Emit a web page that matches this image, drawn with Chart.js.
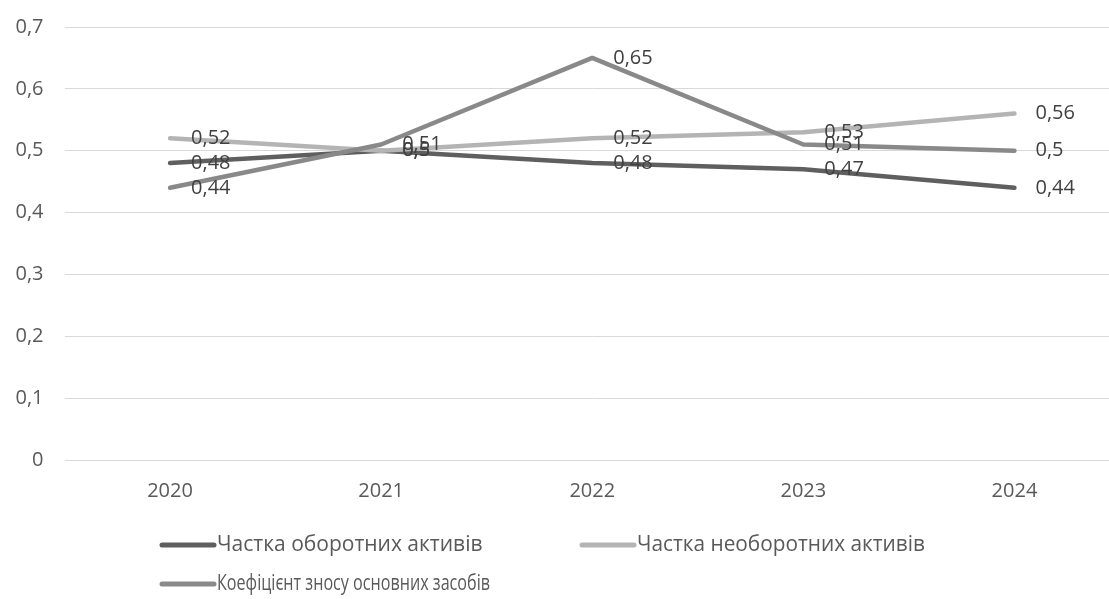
<!DOCTYPE html>
<html lang="uk">
<head>
<meta charset="utf-8">
<title>Структура активів</title>
<script src="https://cdn.jsdelivr.net/npm/chart.js@4/dist/chart.umd.min.js"></script>
<style>
  html, body { margin: 0; padding: 0; background: #ffffff; overflow: hidden; }
  #wrap { width: 1125px; height: 605px; margin-top: -6px; }
</style>
</head>
<body>
<div id="wrap"><canvas id="chart" width="1125" height="605"></canvas></div>
<script>
// Роки
const years = ['2020', '2021', '2022', '2023', '2024'];

// Показники
const currentAssetsShare = [0.48, 0.5, 0.48, 0.47, 0.44];
const nonCurrentAssetsShare = [0.52, 0.5, 0.52, 0.53, 0.56];
const depreciationRatio = [0.44, 0.51, 0.65, 0.51, 0.5];

// Назви рядів
const seriesNames = [
  'Частка оборотних активів',
  'Частка необоротних активів',
  'Коефіцієнт зносу основних засобів'
];

// Поділки осі Y
const yTicks = [0, 0.1, 0.2, 0.3, 0.4, 0.5, 0.6, 0.7];

const FONT = "'Open Sans', 'DejaVu Sans', sans-serif";
const TEXT_COLOR = '#595959';
const LABEL_COLOR = '#404040';

const fmt = v => String(+v.toFixed(2)).replace('.', ',');

// Підписи значень праворуч від точок
const valueLabels = {
  id: 'valueLabels',
  afterDatasetsDraw(chart) {
    const ctx = chart.ctx;
    ctx.save();
    ctx.font = '20px ' + FONT;
    ctx.fillStyle = LABEL_COLOR;
    ctx.textAlign = 'left';
    ctx.textBaseline = 'middle';
    chart.data.datasets.forEach((ds, i) => {
      const meta = chart.getDatasetMeta(i);
      meta.data.forEach((pt, j) => {
        ctx.fillText(fmt(ds.data[j]), pt.x + 21, pt.y);
      });
    });
    ctx.restore();
  }
};

// Легенда під графіком у два рядки (x, y, найбільша ширина підпису)
const bottomLegend = {
  id: 'bottomLegend',
  afterDraw(chart) {
    const ctx = chart.ctx;
    const slots = [[160, 551, 267], [580, 551, 288], [160, 590, 273]];
    ctx.save();
    ctx.font = '21px ' + FONT;
    ctx.textAlign = 'left';
    ctx.textBaseline = 'middle';
    chart.data.datasets.forEach((ds, i) => {
      const [x, y, w] = slots[i];
      ctx.strokeStyle = ds.borderColor;
      ctx.lineWidth = 5;
      ctx.lineCap = 'round';
      ctx.beginPath();
      ctx.moveTo(x + 2, y);
      ctx.lineTo(x + 54, y);
      ctx.stroke();
      ctx.fillStyle = TEXT_COLOR;
      ctx.fillText(ds.label, x + 57, y, w);
    });
    ctx.restore();
  }
};

const lineStyle = color => ({
  borderColor: color,
  backgroundColor: color,
  borderWidth: 4.5,
  borderCapStyle: 'round',
  borderJoinStyle: 'round',
  pointRadius: 0,
  pointHoverRadius: 0,
  tension: 0,
  fill: false
});

new Chart(document.getElementById('chart'), {
  type: 'line',
  data: {
    labels: years,
    datasets: [
      { label: seriesNames[0], data: currentAssetsShare, order: 3, ...lineStyle('#5f5f5f') },
      { label: seriesNames[1], data: nonCurrentAssetsShare, order: 2, ...lineStyle('#b4b4b4') },
      { label: seriesNames[2], data: depreciationRatio, order: 1, ...lineStyle('#898989') }
    ]
  },
  options: {
    responsive: false,
    animation: false,
    devicePixelRatio: 1,
    layout: { padding: { top: 14, right: 5, bottom: 0, left: 0 } },
    plugins: {
      legend: { display: false },
      tooltip: { enabled: false }
    },
    scales: {
      x: {
        offset: true,
        grid: { display: false },
        border: { display: false },
        ticks: {
          color: TEXT_COLOR,
          font: { family: FONT, size: 20 },
          padding: 11,
          maxRotation: 0
        },
        afterFit(scale) { scale.height = 139; }
      },
      y: {
        min: 0,
        max: 0.7,
        afterBuildTicks(scale) { scale.ticks = yTicks.map(v => ({ value: v })); },
        grid: { color: '#d9d9d9', lineWidth: 1, drawTicks: false },
        border: { display: false },
        ticks: {
          color: TEXT_COLOR,
          font: { family: FONT, size: 20 },
          padding: 21,
          callback: v => fmt(v)
        },
        afterFit(scale) { scale.width = 64.5; }
      }
    }
  },
  plugins: [valueLabels, bottomLegend]
});
</script>
</body>
</html>
